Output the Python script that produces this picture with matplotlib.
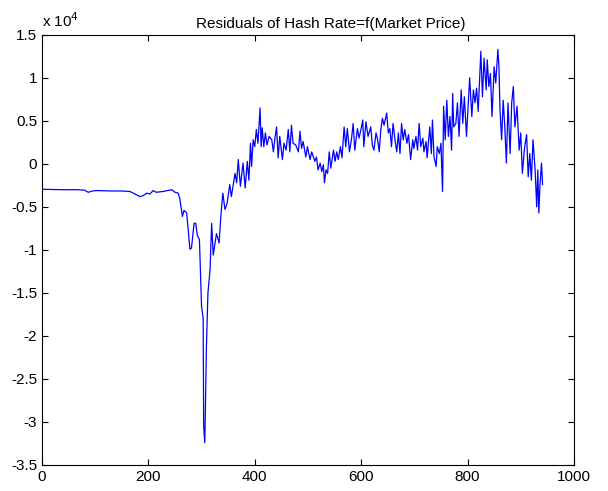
import matplotlib
matplotlib.use("Agg")
import matplotlib.pyplot as plt
from matplotlib.ticker import FuncFormatter

# sample index and residual value
sample = [0, 20, 40, 65, 80, 87, 95, 103, 130, 150, 165, 175, 184, 190, 197, 203,
          209, 215, 222, 228, 236, 244, 250, 256, 259, 264, 267, 272, 275, 278, 281,
          286, 289, 292, 296, 300, 303, 304, 306, 307, 309, 312, 316, 319, 322, 328,
          333, 336, 340, 344, 348, 353, 356, 363, 366, 369, 373, 378, 382, 386, 389,
          392, 394, 397, 400, 403, 406, 410, 412, 414, 417, 420, 423, 427, 432, 435,
          438, 441, 444, 447, 452, 455, 459, 463, 466, 469, 472, 477, 482, 485, 488,
          491, 496, 499, 504, 507, 513, 516, 519, 523, 526, 529, 531, 534, 537, 540,
          543, 548, 551, 554, 557, 561, 564, 568, 571, 574, 578, 582, 585, 588, 593,
          596, 600, 603, 605, 609, 613, 618, 621, 624, 628, 631, 634, 637, 640, 643,
          648, 651, 654, 657, 660, 664, 667, 670, 673, 676, 679, 682, 686, 689, 693,
          697, 699, 703, 706, 709, 712, 716, 718, 722, 724, 729, 732, 734, 737, 741,
          743, 747, 750, 753, 755, 758, 761, 764, 767, 770, 772, 774, 778, 781, 784,
          788, 791, 794, 798, 801, 804, 808, 811, 814, 817, 820, 825, 828, 831, 835,
          837, 840, 843, 846, 850, 853, 857, 859, 861, 864, 867, 870, 873, 876, 880,
          883, 886, 889, 893, 897, 900, 903, 907, 911, 914, 917, 920, 923, 927, 930,
          932, 934, 936, 939, 941]

residual = [-2950, -2980, -3000, -3000, -3050, -3300, -3150, -3100, -3150, -3150,
            -3200, -3500, -3800, -3700, -3400, -3500, -3100, -3300, -3250, -3200,
            -3100, -3000, -3300, -3400, -4000, -6100, -5400, -5700, -7700, -9900,
            -9800, -6900, -6900, -8300, -8800, -16600, -17900, -30500, -32400, -29400,
            -21600, -15000, -12300, -6900, -10600, -8100, -9200, -6300, -3400, -5300,
            -4600, -2400, -3800, -1100, -2200, 500, -2600, 100, -2800, 300, -1900,
            2400, -300, 2800, 2000, 4000, 2400, 6500, 2000, 4200, 2000, 3600, 2200,
            3200, 2800, 1400, 3000, 4300, 700, 3200, 500, 2400, 1600, 4000, 1400,
            4500, 2400, 2200, 1400, 3800, 1800, 2600, 800, 2000, 500, 1400, 300, 800,
            -700, 100, -900, -100, -2200, -700, -1100, 1400, -500, 1600, 300, 1400,
            500, 2000, 700, 4300, 2000, 4100, 1400, 3000, 4700, 1600, 4100, 3000,
            4100, 5100, 2000, 4900, 3200, 4300, 2200, 1600, 3600, 2800, 1400, 4000,
            5300, 4500, 5900, 3600, 4100, 2000, 4700, 2600, 1400, 3600, 1200, 4700,
            2800, 4000, 2400, 3400, 500, 2800, 1800, 3200, 1600, 4700, 2000, 3000,
            1400, 2600, 700, 4300, 1200, 5100, 800, -300, 2000, 1200, 2400, -3200,
            6700, 2800, 7400, 3200, 5500, 1600, 8200, 4300, 4700, 7100, 3200, 8600,
            4700, 7800, 3200, 6700, 10000, 5500, 8600, 7100, 8800, 6100, 13100, 7800,
            12300, 8600, 12100, 9000, 10500, 5500, 11300, 9400, 13300, 11300, 6300,
            2800, 7400, 4300, 100, 7100, 1200, 7100, 9000, 4300, 6700, 1600, 3600,
            -1100, 1800, 3400, -1500, 1200, -1900, 2800, -700, -5000, -700, -5700,
            -2600, 100, -2400]

plt.rcParams['font.family'] = ['Liberation Sans', 'DejaVu Sans']

fig = plt.figure(figsize=(6.08, 4.91), dpi=100)
ax = fig.add_axes([0.069, 0.053, 0.875, 0.876])
ax.plot(sample, residual, color=(0, 0, 1), linewidth=0.9)

ax.set_xlim(0, 1000)
ax.set_ylim(-35000, 15000)
ax.set_xticks(range(0, 1001, 200))
ax.set_yticks(range(-35000, 15001, 5000))
ax.yaxis.set_major_formatter(FuncFormatter(lambda v, p: '%g' % (v / 1e4)))
ax.tick_params(direction='in', top=True, right=True, length=4, labelsize=11)
ax.set_title('Residuals of Hash Rate=f(Market Price)', fontsize=11, pad=5, x=0.543)
ax.text(0.0, 1.012, r'x 10$^{4}$', transform=ax.transAxes, fontsize=11,
        ha='left', va='bottom')

fig.savefig('out.png', dpi=100)
